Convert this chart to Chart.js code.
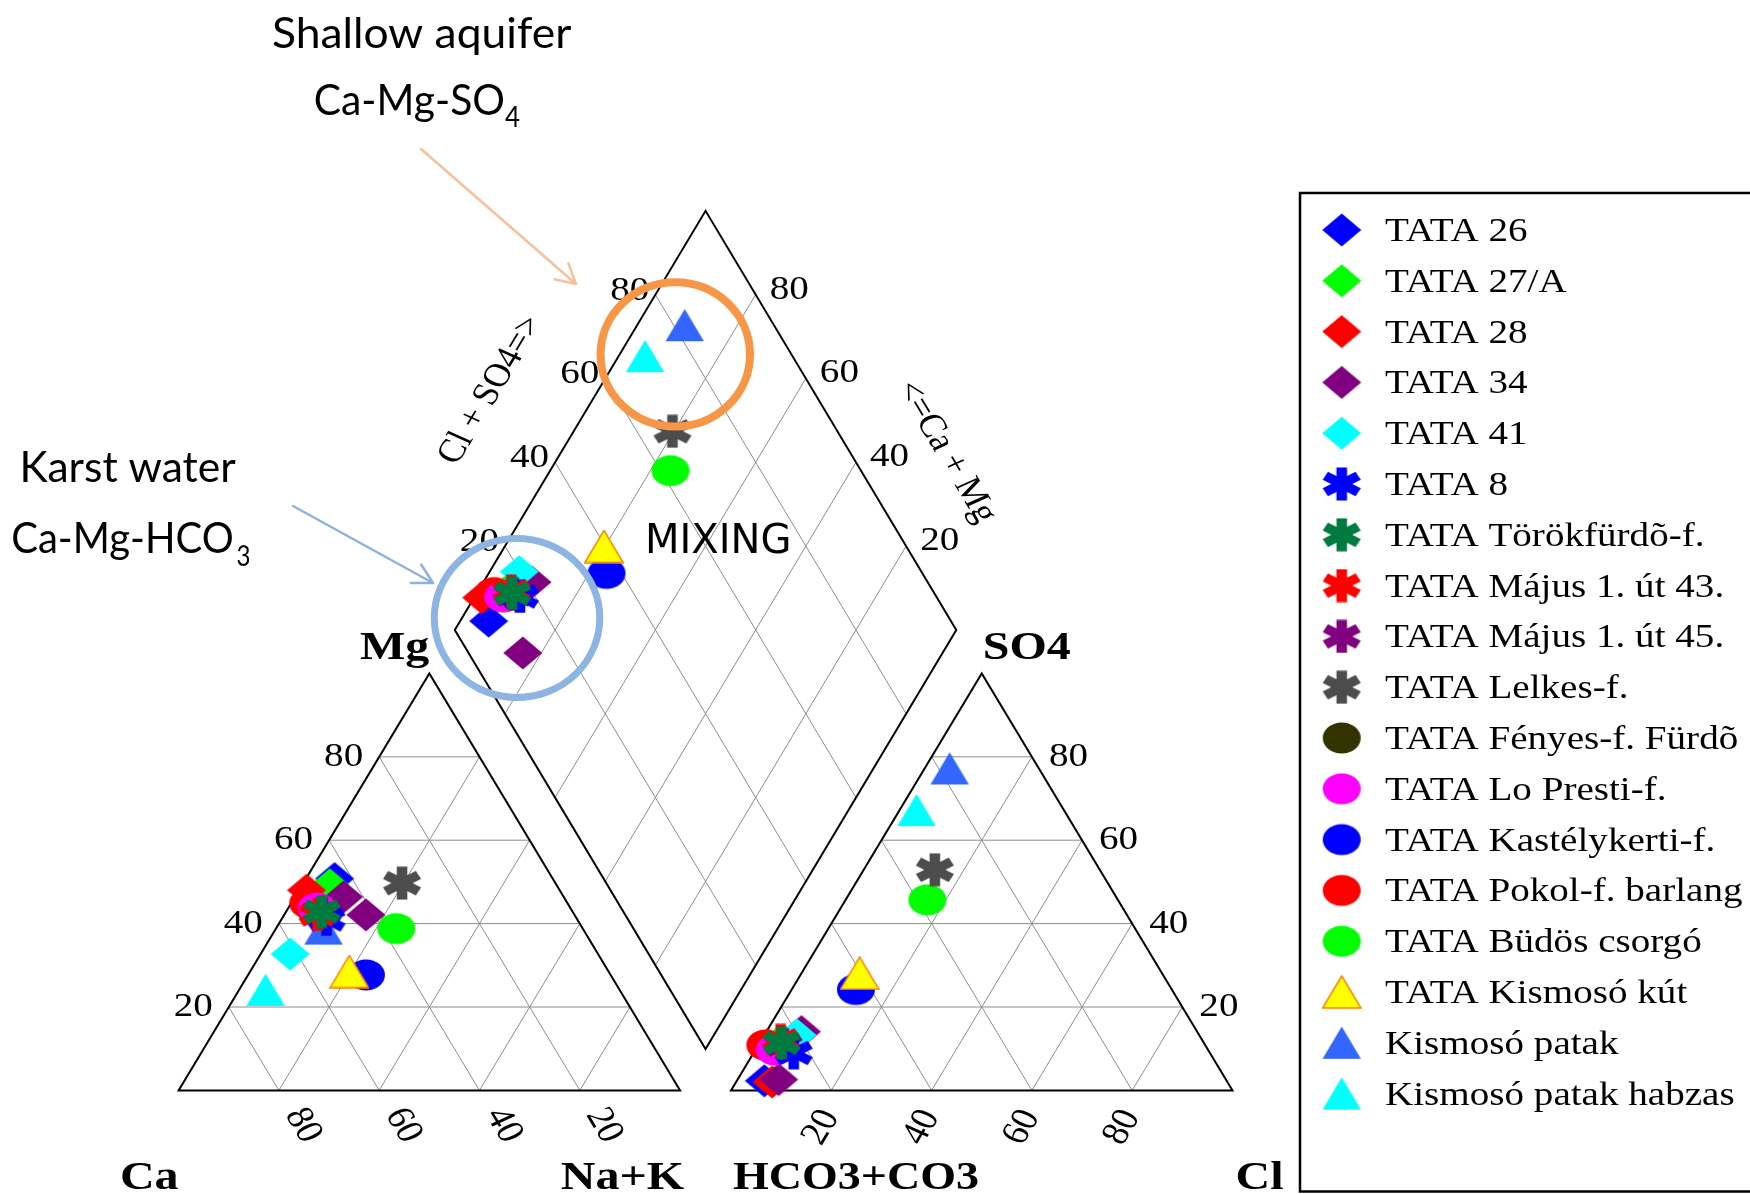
<!DOCTYPE html>
<html>
<head>
<meta charset="utf-8">
<script src="https://cdn.jsdelivr.net/npm/chart.js@4.4.1/dist/chart.umd.min.js"></script>
<style>
  html, body { margin: 0; padding: 0; background: #fff; }
  canvas { display: block; }
</style>
</head>
<body>
<canvas id="piper" width="1750" height="1194" style="width:1750px;height:1194px"></canvas>
<script>
// series (legend order)
const seriesNames = ['TATA 26', 'TATA 27/A', 'TATA 28', 'TATA 34', 'TATA 41', 'TATA 8',
  'TATA Törökfürdõ-f.', 'TATA Május 1. út 43.', 'TATA Május 1. út 45.', 'TATA Lelkes-f.',
  'TATA Fényes-f. Fürdõ', 'TATA Lo Presti-f.', 'TATA Kastélykerti-f.', 'TATA Pokol-f. barlang',
  'TATA Büdös csorgó', 'TATA Kismosó kút', 'Kismosó patak', 'Kismosó patak habzas']
const seriesShape = ['diamond', 'diamond', 'diamond', 'diamond', 'diamond',
  'asterisk', 'asterisk', 'asterisk', 'asterisk', 'asterisk',
  'ellipse', 'ellipse', 'ellipse', 'ellipse', 'ellipse',
  'triangle', 'triangle', 'triangle']
const seriesColor = ['#0000ff', '#00ff00', '#ff0000', '#800080', '#00ffff',
  '#0000ff', '#007b3f', '#ff0000', '#800080', '#4d4d4d',
  '#333300', '#ff00ff', '#0000ff', '#ff0000', '#00ff00',
  '#ffff00', '#3366ff', '#00ffff']
// lower = drawn on top
const seriesLayer = [17, 16, 15, 14, 13, 2, 0, 1, 3, 4, 12, 10, 9, 11, 8, 5, 6, 7]

// samples: series index + cation % (Ca, Mg, Na+K) + anion % (HCO3+CO3, SO4, Cl)
const sampleSeries = [0, 1, 2, 3, 3, 4, 5, 6, 7, 8, 9, 10, 11, 12, 13, 14, 15, 16, 17]
const cationCa  = [43.5, 45.2, 50.5, 41.6, 43.9, 61.4, 50.0, 50.0, 51.2, 50.0, 30.6, 51.0, 50.6, 48.8, 51.7, 37.2, 51.7, 51.7, 70.6]
const cationMg  = [50.8, 49.3, 48.0, 42.1, 46.4, 32.7, 41.0, 42.9, 42.2, 42.5, 49.7, 43.5, 43.7, 27.7, 44.9, 38.8, 28.5, 38.8, 24.1]
const cationNaK = [ 5.7,  5.5,  1.5, 16.3,  9.7,  5.9,  9.0,  7.1,  6.6,  7.5, 19.7,  5.5,  5.7, 23.5,  3.4, 24.0, 19.8,  9.5,  5.3]
const anionHCO3 = [92.2, 85.5, 90.8, 89.2, 78.9, 80.2, 83.0, 84.2, 84.1, 84.0, 32.9, 86.5, 86.4, 63.0, 87.7, 38.0, 60.3, 17.8, 29.4]
const anionSO4  = [ 2.3, 11.0,  2.0,  2.6, 14.1, 13.3,  9.0, 11.4, 12.0, 11.0, 52.9, 10.0,  9.7, 24.2, 10.9, 45.7, 28.1, 77.2, 67.2]
const anionCl   = [ 5.5,  3.5,  7.2,  8.2,  7.0,  6.5,  8.0,  4.4,  3.9,  5.0, 14.2,  3.5,  3.9, 12.8,  1.4, 16.3, 11.6,  5.0,  3.4]

const gridSteps = [20, 40, 60, 80]
const tickLabels = ['20', '40', '60', '80']

// piper geometry (chart units: 100 = triangle side / height)
const GAP = 10.15
const AN_X = 100 + GAP
const D_X = 100 + GAP / 2
const D_Y = 9.93
const D_S = 1.005

function cat(ca, mg, nak) { return { x: nak + mg / 2, y: mg } }
function an(hco3, so4, cl) { return { x: AN_X + cl + so4 / 2, y: so4 } }
function dia(cm, sc) { return { x: D_X + (sc - cm) / 2, y: D_Y + D_S * (cm + sc) } }

const SERIF = '"Liberation Serif", "Times New Roman", serif'
const SX = 1.15

function makeMarker(shape, color) {
  const c = document.createElement('canvas')
  c.width = 40; c.height = 34
  const g = c.getContext('2d')
  g.fillStyle = color
  if (shape === 'diamond') {
    g.beginPath(); g.moveTo(0.5, 17); g.lineTo(20, 0.5); g.lineTo(39.5, 17); g.lineTo(20, 33.5); g.closePath(); g.fill()
  } else if (shape === 'ellipse') {
    g.beginPath(); g.ellipse(20, 17, 19, 15.5, 0, 0, Math.PI * 2); g.fill()
  } else if (shape === 'triangle') {
    g.beginPath(); g.moveTo(20, 0.8); g.lineTo(39.2, 33); g.lineTo(0.8, 33); g.closePath(); g.fill()
    if (color === '#ffff00') { g.strokeStyle = '#ff8000'; g.lineWidth = 1.5; g.stroke() }
  } else {
    g.translate(20, 17); g.scale(SX, 1)
    ;[Math.PI / 2, Math.PI / 6, -Math.PI / 6].forEach(a => {
      g.save(); g.rotate(a); g.fillRect(-16.5, -4.6, 33, 9.2); g.restore()
    })
  }
  return c
}
const markers = seriesShape.map((s, i) => makeMarker(s, seriesColor[i]))

function text(ctx, str, x, y, o) {
  ctx.save()
  ctx.translate(x, y)
  ctx.scale(o.sx || 1, 1)
  if (o.rot) ctx.rotate(o.rot)
  ctx.font = o.font
  ctx.fillStyle = o.color || '#000'
  ctx.textAlign = o.align || 'left'
  ctx.textBaseline = o.base || 'alphabetic'
  ctx.fillText(str, 0, 0)
  ctx.restore()
}
function fitText(ctx, str, x, y, font, width) {
  ctx.save()
  ctx.font = font
  const w = ctx.measureText(str).width
  ctx.translate(x, y)
  ctx.scale(width / w, 1)
  ctx.fillStyle = '#000'
  ctx.textBaseline = 'alphabetic'
  ctx.fillText(str, 0, 0)
  ctx.restore()
}
function arrow(ctx, x1, y1, x2, y2, color) {
  const a = Math.atan2(y2 - y1, x2 - x1)
  ctx.save()
  ctx.strokeStyle = color; ctx.lineWidth = 2.5; ctx.lineCap = 'round'
  ctx.beginPath(); ctx.moveTo(x1, y1); ctx.lineTo(x2, y2)
  ;[0.5, -0.5].forEach(d => {
    ctx.moveTo(x2, y2); ctx.lineTo(x2 - 22 * Math.cos(a + d), y2 - 22 * Math.sin(a + d))
  })
  ctx.stroke()
  ctx.restore()
}

const piperFrame = {
  id: 'piperFrame',
  beforeDatasetsDraw(chart) {
    const ctx = chart.ctx, sx = chart.scales.x, sy = chart.scales.y
    const P = p => ({ x: sx.getPixelForValue(p.x), y: sy.getPixelForValue(p.y) })
    const seg = (a, b) => { const A = P(a), B = P(b); ctx.moveTo(A.x, A.y); ctx.lineTo(B.x, B.y) }
    const poly = pts => { pts.map(P).forEach((p, i) => i ? ctx.lineTo(p.x, p.y) : ctx.moveTo(p.x, p.y)); ctx.closePath() }
    ctx.save()
    ctx.beginPath()
    ctx.strokeStyle = '#8c8c8c'; ctx.lineWidth = 1
    gridSteps.forEach(k => {
      seg(cat(100 - k, k, 0), cat(0, k, 100 - k))
      seg(cat(100 - k, 0, k), cat(0, 100 - k, k))
      seg(cat(k, 100 - k, 0), cat(k, 0, 100 - k))
      seg(an(100 - k, k, 0), an(0, k, 100 - k))
      seg(an(100 - k, 0, k), an(0, 100 - k, k))
      seg(an(k, 100 - k, 0), an(k, 0, 100 - k))
      seg(dia(k, 0), dia(k, 100))
      seg(dia(0, k), dia(100, k))
    })
    ctx.stroke()
    ctx.beginPath()
    ctx.strokeStyle = '#000'; ctx.lineWidth = 2; ctx.lineJoin = 'miter'
    poly([cat(100, 0, 0), cat(0, 0, 100), cat(0, 100, 0)])
    poly([an(100, 0, 0), an(0, 0, 100), an(0, 100, 0)])
    poly([dia(0, 0), dia(0, 100), dia(100, 100), dia(100, 0)])
    ctx.stroke()

    // tick labels
    const f = '34px ' + SERIF
    const cDir = (() => { const a = P(cat(0, 100, 0)), b = P(cat(0, 0, 100)); return Math.atan2(b.y - a.y, (b.x - a.x) / SX) })()
    gridSteps.forEach((k, i) => {
      const lab = tickLabels[i]
      let p = P(cat(100 - k, k, 0))
      text(ctx, lab, p.x - 16, p.y, { font: f, align: 'right', base: 'middle', sx: SX })
      p = P(an(0, k, 100 - k))
      text(ctx, lab, p.x + 17, p.y, { font: f, align: 'left', base: 'middle', sx: SX })
      p = P(cat(k, 0, 100 - k))
      text(ctx, lab, p.x + 24, p.y + 35, { font: f, align: 'center', base: 'middle', sx: SX, rot: cDir })
      p = P(an(100 - k, 0, k))
      text(ctx, lab, p.x - 10, p.y + 37, { font: f, align: 'center', base: 'middle', sx: SX, rot: -cDir })
      p = P(dia(100, k))
      text(ctx, lab, p.x - 6, p.y - 4, { font: f, align: 'right', base: 'middle', sx: SX })
      p = P(dia(k, 100))
      text(ctx, lab, p.x + 14, p.y - 5, { font: f, align: 'left', base: 'middle', sx: SX })
    })

    // corner labels
    const b = 'bold 40px ' + SERIF
    const bx = 1.2
    let p = P(cat(0, 100, 0))
    text(ctx, 'Mg', p.x, p.y - 14, { font: b, align: 'right', sx: bx })
    p = P(an(0, 100, 0))
    text(ctx, 'SO4', p.x + 1, p.y - 14, { font: b, align: 'left', sx: bx })
    p = P(cat(100, 0, 0))
    text(ctx, 'Ca', p.x, p.y + 99, { font: b, align: 'right', sx: bx })
    p = P(cat(0, 0, 100))
    text(ctx, 'Na+K', p.x + 4, p.y + 99, { font: b, align: 'right', sx: bx })
    p = P(an(100, 0, 0))
    text(ctx, 'HCO3+CO3', p.x + 2, p.y + 99, { font: b, align: 'left', sx: SX })
    p = P(an(0, 0, 100))
    text(ctx, 'Cl', p.x + 3, p.y + 99, { font: b, align: 'left', sx: bx })

    // diamond axis titles
    const dA = (() => { const a = P(dia(100, 0)), c = P(dia(100, 100)); return Math.atan2(c.y - a.y, (c.x - a.x) / SX) })()
    text(ctx, 'Cl + SO4=>', 491, 390, { font: '33px ' + SERIF, align: 'center', base: 'middle', sx: SX, rot: dA })
    text(ctx, '<=Ca + Mg', 946, 452, { font: '33px ' + SERIF, align: 'center', base: 'middle', sx: SX, rot: -dA })
    ctx.restore()
  }
}

const piperNotes = {
  id: 'piperNotes',
  afterDraw(chart) {
    const ctx = chart.ctx, sx = chart.scales.x, sy = chart.scales.y
    const ring = (cx, cy, rx, ry, color, lw) => {
      const x = sx.getPixelForValue(cx), y = sy.getPixelForValue(cy)
      const w = Math.abs(sx.getPixelForValue(cx + rx) - x), h = Math.abs(sy.getPixelForValue(cy + ry) - y)
      ctx.beginPath(); ctx.ellipse(x, y, w, h, 0, 0, Math.PI * 2)
      ctx.strokeStyle = color; ctx.lineWidth = lw; ctx.stroke()
    }
    ctx.save()
    ring(99.04, 176.5, 14.9, 17.3, '#f79646', 8)
    ring(67.48, 113.3, 16.5, 19.07, '#8db4e2', 7)

    arrow(ctx, 421, 149, 576, 284, '#f8c09a')
    arrow(ctx, 293, 506, 433, 583, '#8eb2e0')

    const sans = 'Lato, "Open Sans", sans-serif'
    fitText(ctx, 'Shallow aquifer', 272, 47.8, '42px ' + sans, 299.4)
    fitText(ctx, 'Ca-Mg-SO', 313.8, 114.8, '42px ' + sans, 191.2)
    fitText(ctx, '4', 505, 126.8, '28px ' + sans, 15)
    fitText(ctx, 'Karst water', 19.4, 482.2, '42px ' + sans, 216.3)
    fitText(ctx, 'Ca-Mg-HCO', 11.2, 553, '42px ' + sans, 222.5)
    fitText(ctx, '3', 236.5, 566, '28px ' + sans, 14)
    text(ctx, 'MIXING', 645, 552.7, { font: '40px "DejaVu Sans", sans-serif', align: 'left' })

    // legend
    ctx.strokeStyle = '#000'; ctx.lineWidth = 2.5
    ctx.strokeRect(1300, 193, 1436.5, 998.5)
    seriesNames.forEach((name, i) => {
      const y = 230 + i * 50.8
      const m = markers[i]
      ctx.drawImage(m, 1341.7 - m.width / 2, y - m.height / 2)
      text(ctx, name, 1385, y + 11, { font: '33px ' + SERIF, align: 'left', sx: 1.185 })
    })
    ctx.restore()
  }
}

const datasets = seriesNames.map((name, s) => {
  const pts = []
  sampleSeries.forEach((ser, i) => {
    if (ser !== s) return
    pts.push(cat(cationCa[i], cationMg[i], cationNaK[i]))
    pts.push(an(anionHCO3[i], anionSO4[i], anionCl[i]))
    pts.push(dia(cationCa[i] + cationMg[i], anionSO4[i] + anionCl[i]))
  })
  return {
    label: name,
    data: pts,
    pointStyle: markers[s],
    pointRadius: 10,
    order: seriesLayer[s],
    showLine: false,
    clip: false,
  }
})

function build() {
  new Chart(document.getElementById('piper').getContext('2d'), {
    type: 'scatter',
    data: { datasets },
    options: {
      responsive: false,
      devicePixelRatio: 1,
      animation: false,
      events: [],
      layout: { padding: 0, autoPadding: false },
      plugins: { legend: { display: false }, tooltip: { enabled: false } },
      scales: {
        x: { type: 'linear', min: -35.613, max: 313.34, display: false },
        y: { type: 'linear', min: -24.844, max: 261.487, display: false },
      },
    },
    plugins: [piperFrame, piperNotes],
  })
}

const fontLoads = ['40px "Liberation Serif"', 'bold 40px "Liberation Serif"', '42px Lato', '40px "DejaVu Sans"']
  .map(f => document.fonts.load(f).catch(() => null))
Promise.all(fontLoads).then(build, build)
</script>
</body>
</html>
